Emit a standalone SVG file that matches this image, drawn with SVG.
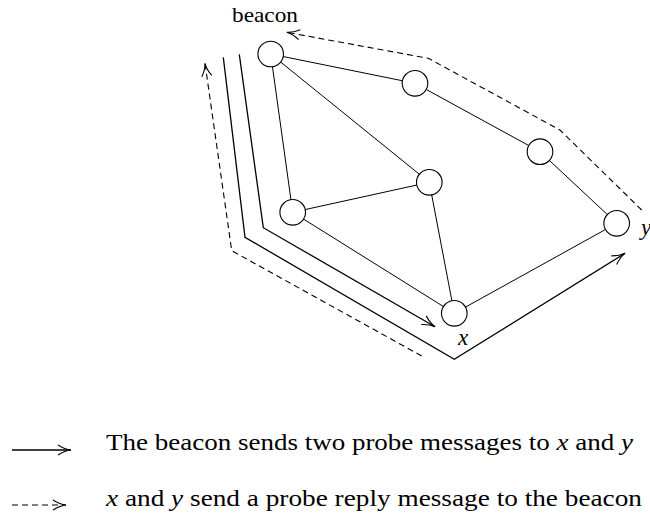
<svg xmlns="http://www.w3.org/2000/svg" width="650" height="514" viewBox="0 0 650 514">
<style>
.node{fill:#fff;stroke:#000;stroke-width:1.1}
.edge{stroke:#000;stroke-width:1;fill:none}
.solid{stroke:#000;stroke-width:1.3;fill:none;marker-end:url(#arr)}
.dash{stroke:#000;stroke-width:1.1;fill:none;stroke-dasharray:6,4;marker-end:url(#arr)}
.t{font-family:"Liberation Serif","DejaVu Serif",serif;fill:#000}
.it{font-style:italic}
</style>
<defs>
<marker id="arr" viewBox="-14 -6 16 12" refX="0" refY="0" markerWidth="16" markerHeight="12" markerUnits="userSpaceOnUse" orient="auto">
<path d="M-13,-5 Q-6,-0.6 0,0 Q-6,0.6 -13,5" fill="none" stroke="#000" stroke-width="1.1" stroke-dasharray="none"/>
</marker>
</defs>
<g id="connectors">
<line class="edge" x1="270.7" y1="54" x2="415" y2="83.3"/>
<line class="edge" x1="270.7" y1="54" x2="429.3" y2="182.3"/>
<line class="edge" x1="270.7" y1="54" x2="292.7" y2="212.3"/>
<line class="edge" x1="415" y1="83.3" x2="540" y2="151.7"/>
<line class="edge" x1="540" y1="151.7" x2="616.7" y2="223.3"/>
<line class="edge" x1="429.3" y1="182.3" x2="292.7" y2="212.3"/>
<line class="edge" x1="429.3" y1="182.3" x2="454.3" y2="313.3"/>
<line class="edge" x1="292.7" y1="212.3" x2="454.3" y2="313.3"/>
<line class="edge" x1="454.3" y1="313.3" x2="616.7" y2="223.3"/>
<polyline class="solid" points="223.3,57.3 245,237.3 454.3,359.3 625,253.3"/>
<polyline class="solid" points="239.3,54.3 263.3,227.7 435,326.7"/>
<polyline class="dash" points="421.7,356 231.7,250.7 205,63.3"/>
<polyline class="dash" points="641.7,210 560,130 428.3,58.3 286.7,32.3"/>
</g>
<g id="n-beacon"><circle class="node" cx="270.7" cy="54" r="12.8"/></g>
<g id="n2"><circle class="node" cx="415" cy="83.3" r="12.8"/></g>
<g id="n3"><circle class="node" cx="540" cy="151.7" r="12.8"/></g>
<g id="n4"><circle class="node" cx="429.3" cy="182.3" r="12.8"/></g>
<g id="n5"><circle class="node" cx="292.7" cy="212.3" r="12.8"/></g>
<g id="n-y"><circle class="node" cx="616.7" cy="223.3" r="12.8"/></g>
<g id="n-x"><circle class="node" cx="454.3" cy="313.3" r="12.8"/></g>
<g id="labels">
<text class="t" x="232" y="22" font-size="22" textLength="66" lengthAdjust="spacingAndGlyphs">beacon</text>
<text class="t it" x="458" y="345" font-size="23">x</text>
<text class="t it" x="641" y="235" font-size="23">y</text>
</g>
<g id="legend">
<line x1="12" y1="450" x2="71" y2="450" class="solid"/>
<line x1="12" y1="505" x2="66" y2="505" class="dash"/>
<text class="t" x="106" y="450" font-size="24" textLength="527" lengthAdjust="spacingAndGlyphs">The beacon sends two probe messages to <tspan class="it">x</tspan> and <tspan class="it">y</tspan></text>
<text class="t" x="106" y="506" font-size="24" textLength="536" lengthAdjust="spacingAndGlyphs"><tspan class="it">x</tspan> and <tspan class="it">y</tspan> send a probe reply message to the beacon</text>
</g>
</svg>
